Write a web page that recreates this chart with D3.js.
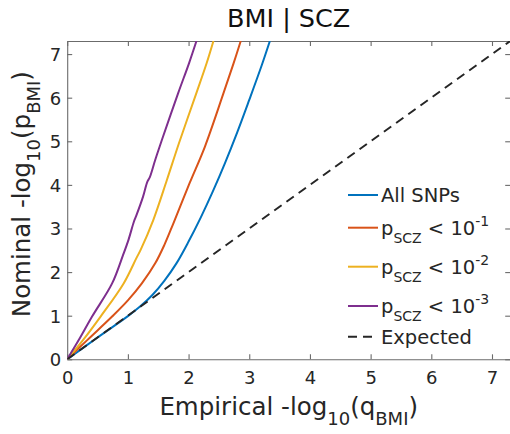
<!DOCTYPE html>
<html>
<head>
<meta charset="utf-8">
<script src="https://cdn.jsdelivr.net/npm/d3@7"></script>
<style>
  html, body { margin: 0; padding: 0; background: #fff; }
  svg { display: block; font-family: "DejaVu Sans", sans-serif; }
</style>
</head>
<body>
<svg id="chart" width="510" height="434"></svg>
<script>
// Conditional Q-Q curves: empirical vs nominal -log10 p for BMI, stratified by SCZ p-value
const axisTicks = [0, 1, 2, 3, 4, 5, 6, 7];
const axisMax = 7.3;

const empAll = [0, 0.50, 1.00, 1.20, 1.40, 1.60, 1.80, 2.00, 2.20, 2.40, 2.60, 2.80, 3.00, 3.20, 3.34];
const nomAll = [0, 0.50, 0.99, 1.21, 1.47, 1.80, 2.20, 2.70, 3.25, 3.85, 4.50, 5.20, 5.95, 6.72, 7.30];

const empP1 = [0, 0.33, 0.74, 1.00, 1.23, 1.45, 1.60, 1.75, 2.02, 2.27, 2.57, 2.74, 2.86];
const nomP1 = [0, 0.44, 0.98, 1.35, 1.74, 2.20, 2.62, 3.12, 4.05, 4.88, 6.08, 6.78, 7.30];

const empP2 = [0, 0.26, 0.55, 0.93, 1.14, 1.21, 1.42, 1.64, 1.84, 2.13, 2.30, 2.41];
const nomP2 = [0, 0.44, 0.98, 1.74, 2.32, 2.51, 3.20, 4.10, 4.95, 6.11, 6.80, 7.30];

const empP3 = [0, 0.19, 0.41, 0.74, 0.92, 1.01, 1.10, 1.14, 1.25, 1.32, 1.36, 1.45, 1.56, 1.83, 2.01, 2.13];
const nomP3 = [0, 0.44, 0.98, 1.74, 2.39, 2.74, 3.16, 3.30, 3.73, 4.07, 4.17, 4.57, 5.03, 6.11, 6.80, 7.30];

const expected = [0, 7.3];

const seriesNames = ["All SNPs", "p_SCZ < 10^-1", "p_SCZ < 10^-2", "p_SCZ < 10^-3", "Expected"];
const seriesColors = ["#0072BD", "#D95319", "#EDB120", "#7E2F8E", "#262626"];

const series = [
  { x: empAll, y: nomAll },
  { x: empP1, y: nomP1 },
  { x: empP2, y: nomP2 },
  { x: empP3, y: nomP3 }
];

const svg = d3.select("#chart");
const plot = { left: 67.2, right: 510.2, top: 41, bottom: 359.3 };

const x = d3.scaleLinear().domain([0, axisMax]).range([plot.left, plot.right]);
const y = d3.scaleLinear().domain([0, axisMax]).range([plot.bottom, plot.top]);

const axisColor = "#6b6b6b";
const textColor = "#262626";

svg.append("defs").append("clipPath").attr("id", "plotClip")
  .append("rect")
  .attr("x", plot.left).attr("y", plot.top)
  .attr("width", plot.right - plot.left).attr("height", plot.bottom - plot.top);

// Axes (box with mirrored inward ticks)
function styleAxis(g) {
  g.selectAll("path.domain").attr("stroke", axisColor).attr("stroke-width", 1.1);
  g.selectAll(".tick line").attr("stroke", axisColor).attr("stroke-width", 1.1);
  g.selectAll(".tick text").attr("fill", textColor)
    .style("font-family", "DejaVu Sans, sans-serif").style("font-size", "18px");
}

const gx = svg.append("g").attr("transform", `translate(0,${plot.bottom})`)
  .call(d3.axisBottom(x).tickValues(axisTicks).tickFormat(d3.format("d"))
    .tickSizeInner(-5).tickSizeOuter(0).tickPadding(10));
styleAxis(gx);
gx.selectAll(".tick text").attr("y", 12).attr("dy", "0.71em");

const gxt = svg.append("g").attr("transform", `translate(0,${plot.top})`)
  .call(d3.axisTop(x).tickValues(axisTicks).tickFormat("").tickSizeInner(-5).tickSizeOuter(0));
styleAxis(gxt);

const gy = svg.append("g").attr("transform", `translate(${plot.left},0)`)
  .call(d3.axisLeft(y).tickValues(axisTicks).tickFormat(d3.format("d"))
    .tickSizeInner(-5).tickSizeOuter(0));
styleAxis(gy);
gy.selectAll(".tick text").attr("x", -6).attr("dy", "0.36em");

const gyr = svg.append("g").attr("transform", `translate(${plot.right},0)`)
  .call(d3.axisRight(y).tickValues(axisTicks).tickFormat("").tickSizeInner(-5).tickSizeOuter(0));
styleAxis(gyr);

// Curves
const line = d3.line()
  .x(d => x(d[0])).y(d => y(d[1]))
  .curve(d3.curveCatmullRom.alpha(0.5));

const curves = svg.append("g").attr("clip-path", "url(#plotClip)");
series.forEach((s, i) => {
  curves.append("path")
    .datum(s.x.map((v, k) => [v, s.y[k]]))
    .attr("d", line)
    .attr("fill", "none")
    .attr("stroke", seriesColors[i])
    .attr("stroke-width", 2)
    .attr("stroke-linejoin", "round");
});

curves.append("path")
  .datum(expected.map(v => [v, v]))
  .attr("d", d3.line().x(d => x(d[0])).y(d => y(d[1])))
  .attr("fill", "none")
  .attr("stroke", seriesColors[4])
  .attr("stroke-width", 2)
  .attr("stroke-dasharray", "9,6");

// Rich text helper: segments with font size and vertical shift
function richText(sel, segments, base) {
  let prevShift = 0;
  segments.forEach(seg => {
    const shift = seg.shift || 0;
    sel.append("tspan")
      .attr("dy", shift - prevShift)
      .style("font-size", (seg.size || base) + "px")
      .text(seg.t);
    prevShift = shift;
  });
}

// Title
svg.append("text")
  .attr("x", (plot.left + plot.right) / 2).attr("y", 27)
  .attr("text-anchor", "middle").attr("fill", "#111")
  .style("font-size", "25.5px")
  .text("BMI | SCZ");

// X label
const xl = svg.append("text")
  .attr("x", (plot.left + plot.right) / 2).attr("y", 415)
  .attr("text-anchor", "middle").attr("fill", textColor)
  .style("font-size", "24.5px");
richText(xl, [
  { t: "Empirical -log" },
  { t: "10", size: 18, shift: 10 },
  { t: "(q" },
  { t: "BMI", size: 18, shift: 10 },
  { t: ")" }
], 24.5);

// Y label
const yl = svg.append("text")
  .attr("transform", `translate(30,${(plot.top + plot.bottom) / 2 - 6}) rotate(-90)`)
  .attr("text-anchor", "middle").attr("fill", textColor)
  .style("font-size", "24.5px");
richText(yl, [
  { t: "Nominal -log" },
  { t: "10", size: 18, shift: 10 },
  { t: "(p" },
  { t: "BMI", size: 18, shift: 10 },
  { t: ")" }
], 24.5);

// Legend
const legendRows = [195, 227.7, 266.7, 306, 336.7];
const legend = svg.append("g");
seriesNames.forEach((name, i) => {
  const ly = legendRows[i];
  legend.append("line")
    .attr("x1", 348).attr("x2", 378).attr("y1", ly).attr("y2", ly)
    .attr("stroke", seriesColors[i]).attr("stroke-width", 2)
    .attr("stroke-dasharray", i === 4 ? "9,6" : null);
  const t = legend.append("text")
    .attr("x", 381).attr("y", ly + 7.3)
    .attr("fill", textColor).style("font-size", "19.5px");
  const m = name.match(/^p_(\w+) < 10\^(-\d)$/);
  if (m) {
    richText(t, [
      { t: "p" },
      { t: m[1], size: 14, shift: 8 },
      { t: " < 10" },
      { t: m[2], size: 14, shift: -9 }
    ], 19.5);
  } else {
    t.text(name);
  }
});
</script>
</body>
</html>
